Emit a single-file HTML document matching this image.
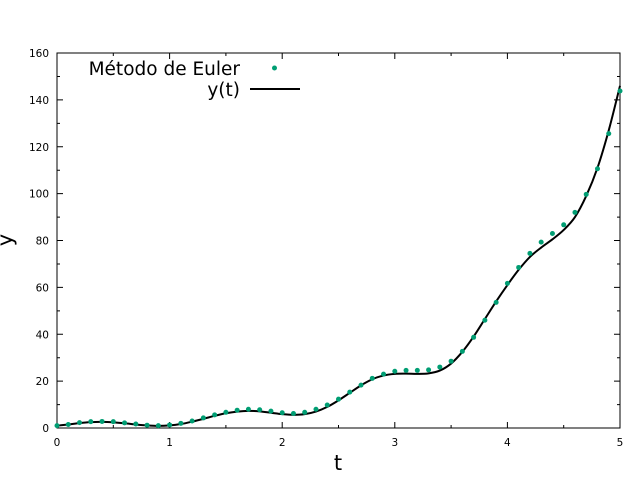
<!DOCTYPE html>
<html><head><meta charset="utf-8"><style>
body{margin:0;background:#fff;}
svg{display:block;font-family:"DejaVu Sans","Liberation Sans",sans-serif;}
</style></head><body>
<svg id="chart" width="640" height="480" viewBox="0 0 640 480" xmlns="http://www.w3.org/2000/svg">
<g id="axes"></g>
<g id="series"></g>
<text x="12" y="240" font-size="21" text-anchor="middle" transform="rotate(-90 12 240)">y</text>
<text x="338" y="470" font-size="21" text-anchor="middle">t</text>
<g>
<text x="240" y="75" font-size="18.5" text-anchor="end">Método de Euler</text>
<circle cx="274.5" cy="68" r="2.5" fill="#009e73"/>
<text x="240" y="96" font-size="18.5" text-anchor="end">y(t)</text>
<line x1="250" y1="89" x2="300" y2="89" stroke="#000" stroke-width="2"/>
</g>
</svg>
<script>
const tValues=[0,0.1,0.2,0.3,0.4,0.5,0.6,0.7,0.8,0.9,1.0,1.1,1.2,1.3,1.4,1.5,1.6,1.7,1.8,1.9,2.0,2.1,2.2,2.3,2.4,2.5,2.6,2.7,2.8,2.9,3.0,3.1,3.2,3.3,3.4,3.5,3.6,3.7,3.8,3.9,4.0,4.1,4.2,4.3,4.4,4.5,4.6,4.7,4.8,4.9,5.0];
const eulerValues=[1,1.5,2.3,2.7,2.8,2.7,2.2,1.7,1.2,1.0,1.3,2.0,3.0,4.3,5.6,6.7,7.6,8.0,7.8,7.2,6.5,6.2,6.7,8.0,9.8,12.3,15.3,18.3,21.2,23.0,24.2,24.6,24.6,24.8,26.0,28.5,32.7,38.7,46,53.6,61.7,68.5,74.5,79.3,83,86.7,92,99.7,110.6,125.6,143.8];
const exactValues=[1,1.5,2.1,2.5,2.6,2.4,2.0,1.5,1.1,0.9,1.1,1.7,2.7,3.9,5.2,6.3,7.0,7.3,7.1,6.5,5.9,5.6,5.9,7.0,9.0,11.8,15.0,18.2,20.8,22.4,23.1,23.2,23.1,23.3,24.5,27.5,32.5,39.0,46.5,54.0,61.0,67.5,73.0,77.0,80.5,84.5,90.0,99.0,111.0,127.0,146.0];
const xTicks=[0,1,2,3,4,5];
const yTicks=[0,20,40,60,80,100,120,140,160];
const X0=57,X1=620,Y0=428,Y1=53;
const xs=t=>X0+(t-0)/(5-0)*(X1-X0);
const ys=v=>Y0-(v-0)/(160-0)*(Y0-Y1);
const NS="http://www.w3.org/2000/svg";
function mk(tag,attrs,parent){const e=document.createElementNS(NS,tag);for(const k in attrs)e.setAttribute(k,attrs[k]);parent.appendChild(e);return e;}
const ax=document.getElementById('axes');
const frame=mk('rect',{x:X0,y:Y1,width:X1-X0,height:Y0-Y1,fill:'none',stroke:'#000','stroke-width':1},ax);


let tk='';
for(let t=0;t<=5.001;t+=0.5){const x=xs(t),L=(Math.abs(t-Math.round(t))<1e-6)?6:3;tk+=`M${x},${Y0}v${-L}M${x},${Y1}v${L}`;}
for(let v=0;v<=160.001;v+=10){const y=ys(v),L=(v%20===0)?6:3;tk+=`M${X0},${y}h${L}M${X1},${y}h${-L}`;}
const tp=mk('path',{d:tk,stroke:'#000','stroke-width':1,fill:'none'},ax);


xTicks.forEach(t=>{const e=mk('text',{x:xs(t),y:Y0+18,'font-size':10.5,'text-anchor':'middle'},ax);e.textContent=t;

});
yTicks.forEach(v=>{const e=mk('text',{x:X0-8,y:ys(v)+4,'font-size':10.5,'text-anchor':'end'},ax);e.textContent=v;

});
const sr=document.getElementById('series');
const P=tValues.map((t,i)=>[xs(t),ys(exactValues[i])]);
let d=`M${P[0][0]},${P[0][1]}`;
for(let i=0;i<P.length-1;i++){const p0=P[Math.max(0,i-1)],p1=P[i],p2=P[i+1],p3=P[Math.min(P.length-1,i+2)];
d+=`C${p1[0]+(p2[0]-p0[0])/6},${p1[1]+(p2[1]-p0[1])/6} ${p2[0]-(p3[0]-p1[0])/6},${p2[1]-(p3[1]-p1[1])/6} ${p2[0]},${p2[1]}`;}
const line=mk('path',{d:d,stroke:'#000','stroke-width':2,fill:'none'},sr);


tValues.forEach((t,i)=>{const c=mk('circle',{cx:xs(t),cy:ys(eulerValues[i]),r:2.5,fill:'#009e73'},sr);

});
</script>
</body></html>
